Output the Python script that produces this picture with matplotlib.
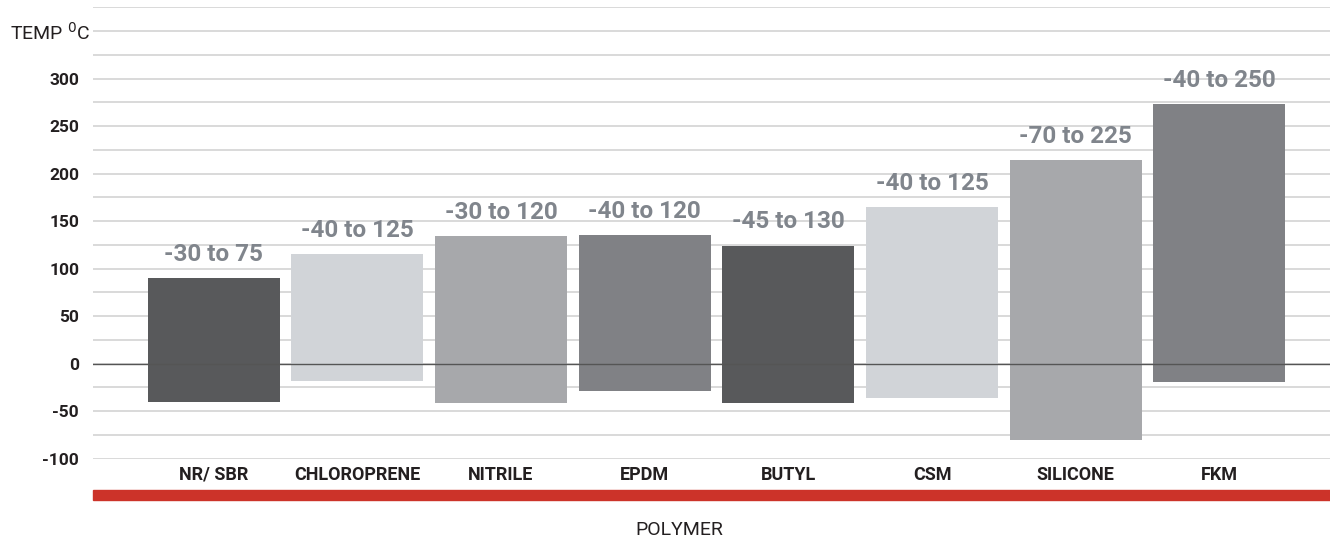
import numpy as np
import matplotlib.pyplot as plt
from matplotlib.patches import Rectangle

polymers = ['NR/ SBR', 'CHLOROPRENE', 'NITRILE', 'EPDM', 'BUTYL', 'CSM', 'SILICONE', 'FKM']
ranges = ['-30 to 75', '-40 to 125', '-30 to 120', '-40 to 120', '-45 to 130',
          '-40 to 125', '-70 to 225', '-40 to 250']
# bar extents as drawn in the picture
bar_low = [-40, -18, -41, -29, -42, -36, -81, -19]
bar_high = [90, 115, 134, 135, 124, 165, 214, 273]
colors = ['#58595b', '#d1d4d8', '#a7a8ab', '#808185',
          '#58595b', '#d1d4d8', '#a7a8ab', '#808185']

plt.rcParams['font.family'] = ['Roboto', 'DejaVu Sans']

fig = plt.figure(figsize=(13.3, 5.41), dpi=100)
ax = fig.add_axes([93/1330, 1-459/541, 1-93/1330, 452/541])

x = np.arange(len(polymers))
heights = np.array(bar_high) - np.array(bar_low)
ax.bar(x, heights, bottom=bar_low, width=0.92, color=colors, zorder=2)

for xi, top, lab in zip(x, bar_high, ranges):
    ax.text(xi, top + 13, lab, ha='center', va='bottom', fontsize=17.5,
            color='#80858c', fontweight='bold', zorder=3)

ax.set_xlim(-0.84, 7.77)
ax.set_ylim(-100.5, 375.5)
ax.set_yticks(np.arange(-100, 376, 25), minor=True)
ax.set_yticks(np.arange(-100, 301, 50))
ax.set_yticklabels([str(v) for v in range(-100, 301, 50)], fontsize=12.5,
                   fontweight='bold', color='#231f20')
ax.grid(axis='y', which='both', color='#d9d9d9', linewidth=1.4, zorder=0)
ax.axhline(0, color='#555555', linewidth=1, zorder=2.5)
ax.tick_params(axis='y', which='both', length=0, pad=10)
ax.tick_params(axis='x', length=0, pad=5)
ax.set_xticks(x)
ax.set_xticklabels(polymers, fontsize=13, fontweight='bold', color='#231f20')
for s in ax.spines.values():
    s.set_visible(False)

fig.text(10/1330, 1-33/541, 'TEMP $^{0}$C', fontsize=14, color='#231f20',
         ha='left', va='center')
fig.text(679/1330, 1-530/541, 'POLYMER', fontsize=14, color='#231f20',
         ha='center', va='center')
fig.patches.append(Rectangle((93/1330, 1-500/541), 1-93/1330, 10/541,
                             transform=fig.transFigure, color='#cc3329'))

fig.savefig('out.png', dpi=100)
